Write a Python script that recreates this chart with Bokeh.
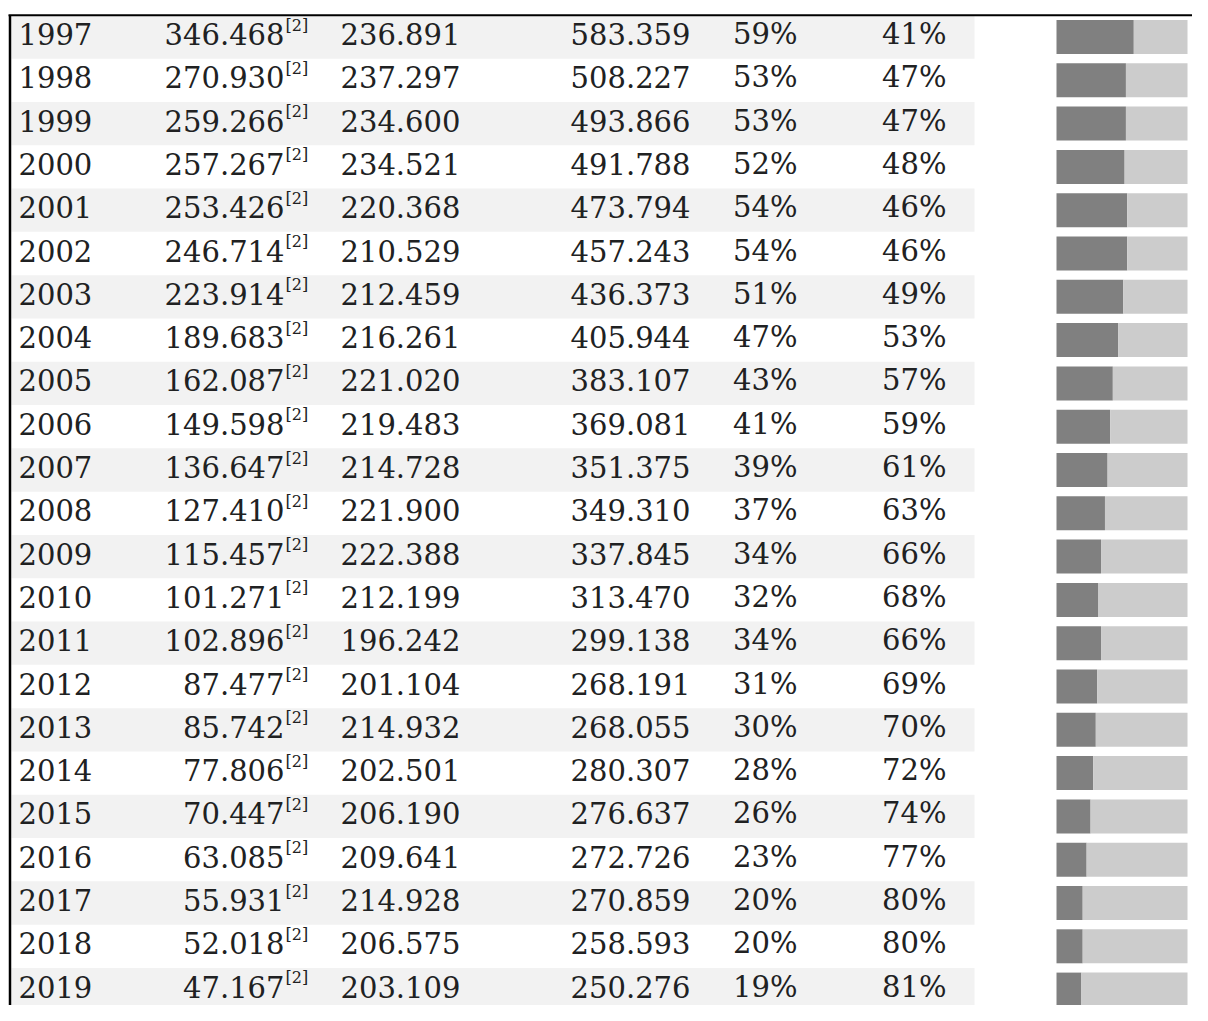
from bokeh.plotting import figure
from bokeh.models import Range1d, ColumnDataSource
from bokeh.core.properties import value
from bokeh.embed import file_html
from bokeh.resources import INLINE

years = list(range(1997, 2020))
ex_values = [346.468, 270.930, 259.266, 257.267, 253.426, 246.714, 223.914, 189.683,
             162.087, 149.598, 136.647, 127.410, 115.457, 101.271, 102.896, 87.477,
             85.742, 77.806, 70.447, 63.085, 55.931, 52.018, 47.167]
new_values = [236.891, 237.297, 234.600, 234.521, 220.368, 210.529, 212.459, 216.261,
              221.020, 219.483, 214.728, 221.900, 222.388, 212.199, 196.242, 201.104,
              214.932, 202.501, 206.190, 209.641, 214.928, 206.575, 203.109]
total_values = [583.359, 508.227, 493.866, 491.788, 473.794, 457.243, 436.373, 405.944,
                383.107, 369.081, 351.375, 349.310, 337.845, 313.470, 299.138, 268.191,
                268.055, 280.307, 276.637, 272.726, 270.859, 258.593, 250.276]
ex_share = [59, 53, 53, 52, 54, 54, 51, 47, 43, 41, 39, 37, 34, 32, 34, 31, 30, 28, 26, 23, 20, 20, 19]
new_share = [41, 47, 47, 48, 46, 46, 49, 53, 57, 59, 61, 63, 66, 68, 66, 69, 70, 72, 74, 77, 80, 80, 81]
footnote = "[2]"

W, H = 1192, 1005
ROW_H = 43.3
ROW0 = 36.5  # pixel y of first row centre
top = (0 - ROW0) / ROW_H
bottom = (H - ROW0) / ROW_H

p = figure(width=W, height=H, output_backend="svg", toolbar_location=None,
           x_range=Range1d(0, W), y_range=Range1d(bottom, top),
           min_border=0, min_border_left=0, min_border_right=0,
           min_border_top=0, min_border_bottom=0)
p.axis.visible = False
p.grid.visible = False
p.outline_line_color = None
p.background_fill_color = "white"
p.border_fill_color = "white"

idx = list(range(len(years)))
even = [i for i in idx if i % 2 == 0]

# striped rows
p.hbar(y=even, height=1.0, left=11, right=974, fill_color="#f2f2f2", line_color=None)

# bars
BAR_L, BAR_W = 1056, 131
dark_r = [BAR_L + BAR_W * s / (s + n) for s, n in zip(ex_share, new_share)]
p.hbar(y=idx, height=34 / ROW_H, left=BAR_L, right=dark_r, fill_color="#808080", line_color=None)
p.hbar(y=idx, height=34 / ROW_H, left=dark_r, right=BAR_L + BAR_W, fill_color="#cccccc", line_color=None)

# borders
p.segment(x0=[8], y0=[-0.5], x1=[W], y1=[-0.5], line_color="black", line_width=2)
p.segment(x0=[9.5], y0=[-0.5], x1=[9.5], y1=[bottom + 1], line_color="black", line_width=2.5)

base = [i - 3 / ROW_H for i in idx]
sup_base = [i - 12 / ROW_H for i in idx]
FONT = value("DejaVu Serif")
COL = "#202122"
FS = "29px"

src = ColumnDataSource(dict(
    y=base, ys=sup_base,
    year=[str(y) for y in years],
    ex=[f"{v:.3f}" for v in ex_values],
    new=[f"{v:.3f}" for v in new_values],
    tot=[f"{v:.3f}" for v in total_values],
    s1=[f"{v}%" for v in ex_share],
    s2=[f"{v}%" for v in new_share],
    fn=[footnote] * len(years),
))

def col(x, field, align, size=FS, yfield="y"):
    p.text(x=x, y=yfield, text=field, source=src, text_align=align,
           text_baseline="alphabetic", text_font=FONT, text_font_size=size,
           text_color=COL)

col(18, "year", "left")
col(284, "ex", "right")
col(285, "fn", "left", size="16px", yfield="ys")
col(340, "new", "left")
col(690, "tot", "right")
col(797, "s1", "right")
col(946, "s2", "right")

open("out.html", "w").write(file_html(p, INLINE))
